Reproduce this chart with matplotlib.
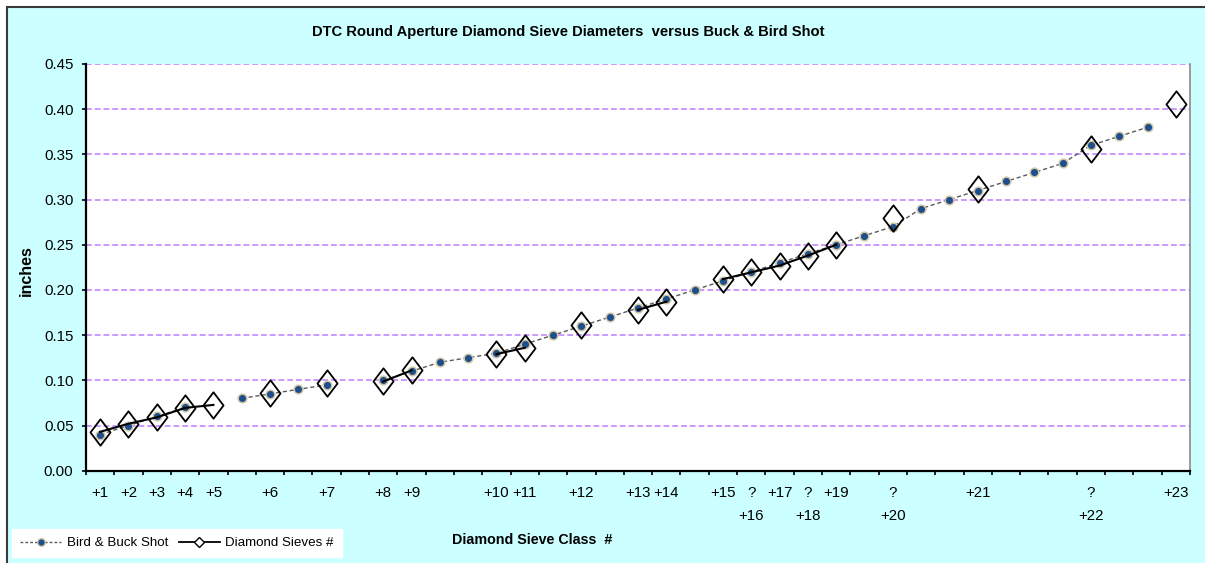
import numpy as np
import matplotlib
matplotlib.use("Agg")
import matplotlib.pyplot as plt
from matplotlib.lines import Line2D
from matplotlib.patches import Rectangle
from matplotlib.path import Path

nan = np.nan

categories = ["+1", "+2", "+3", "+4", "+5", "", "+6", "", "+7", "", "+8", "+9", "", "",
              "+10", "+11", "", "+12", "", "+13", "+14", "", "+15", "?\n+16", "+17",
              "?\n+18", "+19", "", "?\n+20", "", "", "+21", "", "", "", "?\n+22", "", "", "+23"]

bird_buck_shot = [0.04, 0.05, 0.06, 0.07, nan, 0.08, 0.085, 0.09, 0.095, nan, 0.10, 0.11,
                  0.12, 0.125, 0.13, 0.14, 0.15, 0.16, 0.17, 0.18, 0.19, 0.20, 0.21, 0.22,
                  0.23, 0.24, 0.25, 0.26, 0.27, 0.29, 0.30, 0.31, 0.32, 0.33, 0.34, 0.36,
                  0.37, 0.38, nan]

diamond_sieves = [0.043, 0.052, 0.059, 0.0695, 0.0728, nan, 0.086, nan, 0.097, nan, 0.0987,
                  0.111, nan, nan, 0.129, 0.136, nan, 0.161, nan, 0.178, 0.187, nan, 0.212,
                  0.2195, 0.227, 0.238, 0.250, nan, 0.280, nan, nan, 0.312, nan, nan, nan,
                  0.356, nan, nan, 0.406]

y_ticks = [0.00, 0.05, 0.10, 0.15, 0.20, 0.25, 0.30, 0.35, 0.40, 0.45]

title = "DTC Round Aperture Diamond Sieve Diameters  versus Buck & Bird Shot"
x_title = "Diamond Sieve Class  #"
y_title = "inches"

SANS = ["Liberation Sans", "DejaVu Sans"]
plt.rcParams["font.family"] = SANS

W, H = 1205, 563
fig = plt.figure(figsize=(W / 100, H / 100), dpi=100, facecolor="white")

# light cyan chart area with dark frame
fig.patches.append(Rectangle((7 / W, -0.05), 1.2, 1 - 7 / H + 0.05, transform=fig.transFigure,
                             facecolor="#ccffff", edgecolor="#3a3a3a", linewidth=1.5, zorder=-10))

ax = fig.add_axes([86 / W, (H - 470.7) / H, (1190 - 86) / W, (470.7 - 64) / H])
ax.set_facecolor("white")

x = np.arange(len(categories))

# diamond marker (slightly taller than wide)
diamond = Path([(0, 1), (0.76, 0), (0, -1), (-0.76, 0), (0, 1)],
               [Path.MOVETO, Path.LINETO, Path.LINETO, Path.LINETO, Path.CLOSEPOLY])

ax.plot(x, bird_buck_shot, linestyle=(0, (3, 2)), color="#5a5a5a", linewidth=1.0,
        marker="o", markersize=6.2, markerfacecolor="#1f4e8c", markeredgecolor="#cfc6a4",
        markeredgewidth=1.1, zorder=3)
ax.plot(x, diamond_sieves, linestyle="-", color="black", linewidth=1.5,
        marker=diamond, markersize=19, markerfacecolor="none", markeredgecolor="black",
        markeredgewidth=1.3, zorder=4)

ax.set_xlim(-0.5, len(categories) - 0.5)
ax.set_ylim(0, 0.45)
ax.set_yticks(y_ticks)
ax.set_yticklabels([f"{v:.2f}" for v in y_ticks], fontsize=10.8)
ax.tick_params(axis="y", direction="out", length=3, width=1.2, pad=6, colors="black")

ax.set_xticks(np.arange(len(categories) + 1) - 0.5)
ax.set_xticklabels([])
ax.tick_params(axis="x", which="major", direction="out", length=3, width=1.2)
ax.set_xticks(x, minor=True)
ax.set_xticklabels(categories, minor=True, fontsize=10.8, linespacing=1.8)
ax.tick_params(axis="x", which="minor", length=0, pad=11)

ax.grid(axis="y", color="#cc99ff", linestyle=(0, (3, 1.5)), linewidth=1.4, zorder=1)
ax.set_axisbelow(True)

ax.spines["left"].set_linewidth(1.6)
ax.spines["bottom"].set_linewidth(1.6)
ax.spines["right"].set_color("#8a8a8a")
ax.spines["right"].set_linewidth(1.2)
ax.spines["top"].set_visible(False)

fig.text(568 / W, 1 - 32 / H, title, ha="center", va="center", fontsize=10.6,
         fontweight="bold")
fig.text(532 / W, 1 - 540 / H, x_title, ha="center", va="center", fontsize=10.3,
         fontweight="bold")
fig.text(26 / W, 1 - 271 / H, y_title, ha="center", va="center", rotation=90,
         fontsize=11.5, fontweight="bold")

handles = [
    Line2D([], [], linestyle=(0, (2, 1.5)), color="#5a5a5a", linewidth=1.0, marker="o",
           markersize=5.5, markerfacecolor="#1f4e8c", markeredgecolor="#cfc6a4"),
    Line2D([], [], linestyle="-", color="black", linewidth=1.3, marker="D", markersize=5,
           markerfacecolor="white", markeredgecolor="black"),
]
leg = fig.legend(handles, ["Bird & Buck Shot", "Diamond Sieves #"], loc="upper left",
                 bbox_to_anchor=(12 / W, 1 - 529 / H), ncol=2, frameon=True, fancybox=False,
                 framealpha=1, facecolor="white", edgecolor="white", borderaxespad=0,
                 handlelength=3.1, handletextpad=0.4, columnspacing=0.8, borderpad=0.6,
                 prop={"size": 9.6})

fig.savefig("out.png", dpi=100, facecolor="white")
